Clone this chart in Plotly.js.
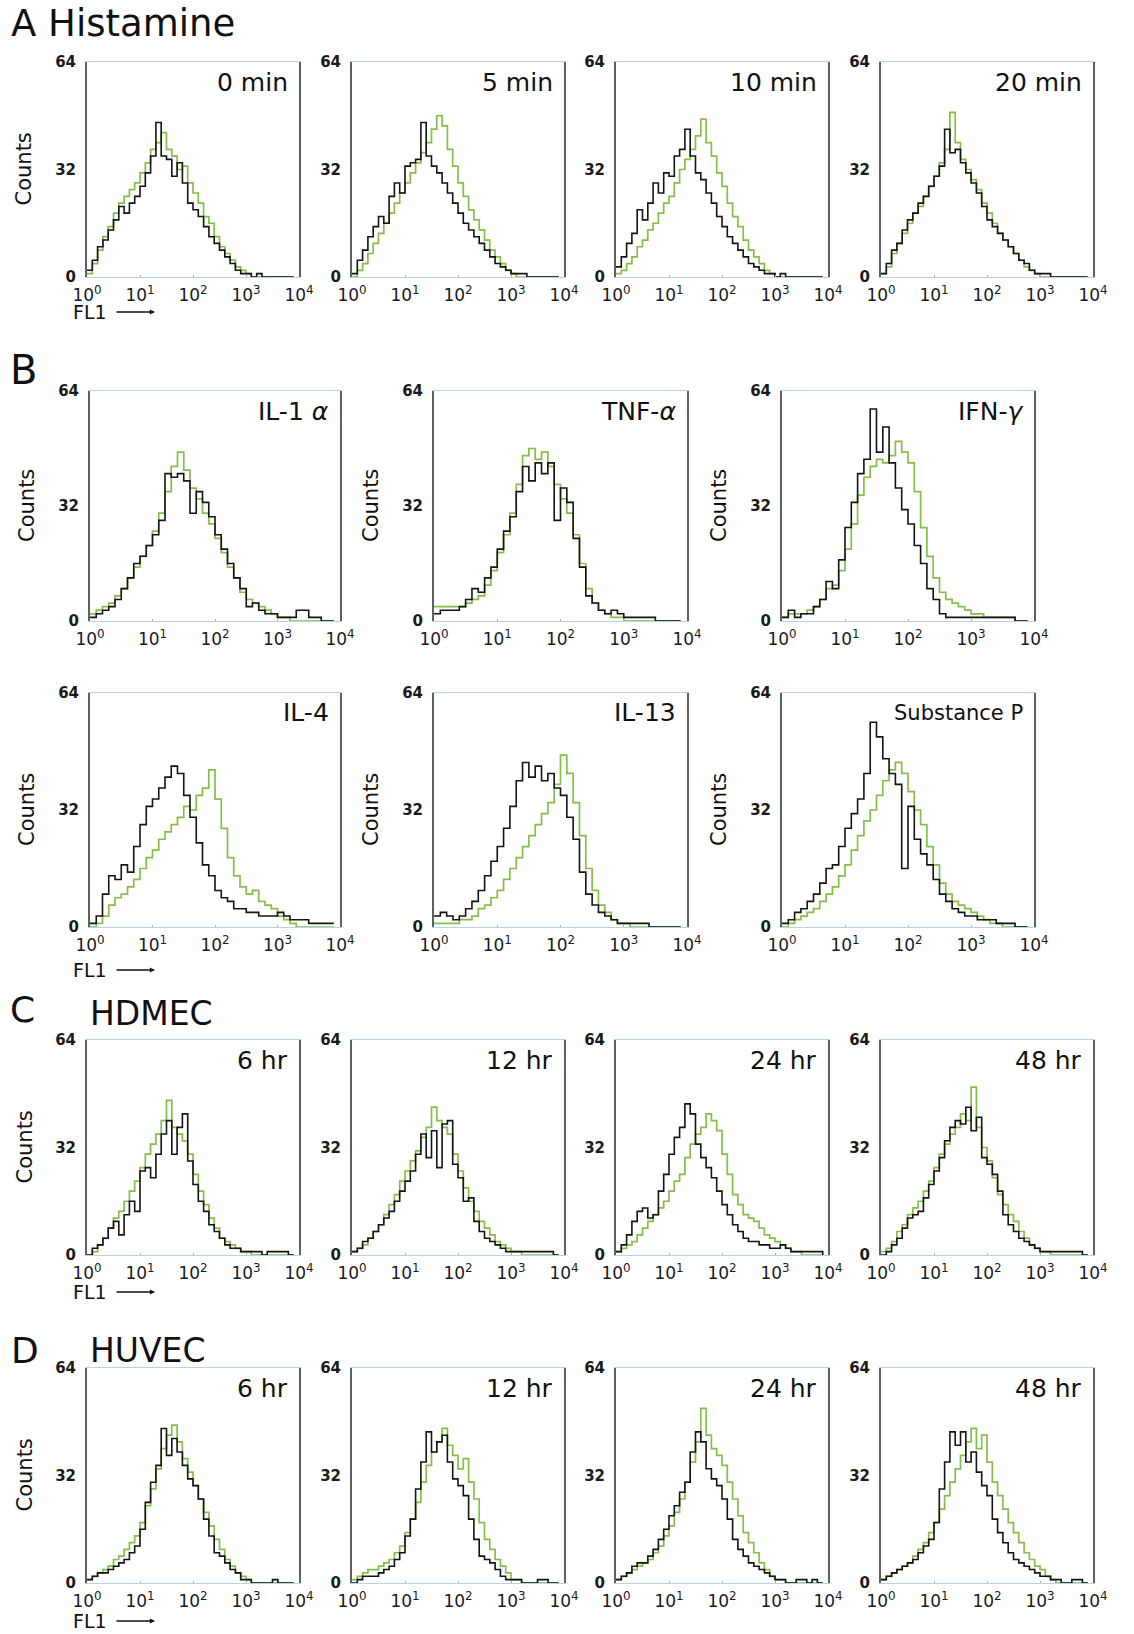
<!DOCTYPE html>
<html><head><meta charset="utf-8">
<script src="https://cdn.plot.ly/plotly-3.0.1.min.js"></script>
<style>html,body{margin:0;padding:0;background:#fff}#chart{width:1134px;height:1634px}</style>
</head><body><div id="chart"></div>
<script>
// FL1 bins (decades, log10 of fluorescence channel)
const BINS = [0,0.1,0.2,0.3,0.4,0.5,0.6,0.7,0.8,0.9,1.0,1.1,1.2,1.3,1.4,1.5,1.6,1.7,1.8,1.9,2.0,2.1,2.2,2.3,2.4,2.5,2.6,2.7,2.8,2.9,3.0,3.1,3.2,3.3,3.4,3.5,3.6,3.7,3.8,3.9];
const X_TICK_VALUES = [0,1,2,3,4];
const X_TICK_TEXT = ['10<sup>0</sup>','10<sup>1</sup>','10<sup>2</sup>','10<sup>3</sup>','10<sup>4</sup>'];
const Y_TICK_VALUES = [0,32,64];
const Y_TICK_TEXT = ['0','32','64'];
const PANEL_LABELS = ['0 min','5 min','10 min','20 min','IL-1 <i>α</i>','TNF-<i>α</i>','IFN-<i>γ</i>','IL-4','IL-13','Substance P','6 hr','12 hr','24 hr','48 hr','6 hr','12 hr','24 hr','48 hr'];
const SECTION_TITLES = ['A Histamine','B','C','HDMEC','D','HUVEC'];

// A: Histamine
const histamine0Black = [2,5,9,11,14,17,21,19,22,24, 27,31,36,46,36,35,30,34,28,22, 20,18,15,12,10,8,6,4,2,1, 1,0,1,0,0,0,0,0,0,0];
const histamine0Green = [1,4,8,12,15,19,22,24,26,28, 31,34,38,40,43,38,36,32,33,28, 25,22,18,16,12,9,7,5,3,2, 1,0,0,0,0,0,0,0,0,0];
const histamine5Black = [1,5,8,12,15,18,16,24,28,25, 33,34,35,46,36,33,31,28,25,22, 19,16,14,12,10,8,6,4,3,2, 1,1,1,0,0,0,0,0,0,0];
const histamine5Green = [0,2,4,7,10,13,16,19,22,25, 28,31,34,37,40,44,48,45,38,33, 28,24,20,17,14,11,8,6,4,2, 1,0,0,0,0,0,0,0,0,0];
const histamine10Black = [3,6,10,13,20,17,22,28,25,31, 30,36,38,44,36,31,29,25,22,18, 15,12,10,8,6,4,3,2,1,1, 0,1,0,0,0,0,0,0,0,0];
const histamine10Green = [1,2,4,6,9,11,14,16,19,22, 24,28,32,35,38,42,47,40,36,31, 27,22,18,15,11,8,6,4,2,1, 0,0,0,0,0,0,0,0,0,0];
const histamine20Black = [1,4,8,10,14,17,19,22,24,27, 30,33,44,37,38,34,31,28,25,21, 17,15,13,11,9,7,5,4,2,1, 1,1,0,0,0,0,0,0,0,0];
const histamine20Green = [1,3,7,10,13,16,19,21,24,27, 30,34,38,49,40,35,32,29,26,22, 19,16,13,11,9,7,5,3,2,1, 0,0,0,0,0,0,0,0,0,0];
// B: cytokines
const il1aBlack = [1,2,3,4,6,9,12,16,18,21, 24,28,41,40,41,39,30,36,33,29, 24,20,16,12,9,4,5,3,2,2, 1,1,1,3,3,1,1,0,0,0];
const il1aGreen = [2,3,4,5,7,9,12,15,18,21, 25,30,36,43,47,42,37,34,30,27, 23,19,15,12,8,6,5,4,3,2, 1,1,0,0,0,0,0,0,0,0];
const tnfaBlack = [2,3,3,3,4,6,9,8,12,15, 20,25,29,36,43,39,44,41,44,28, 37,33,23,15,7,5,3,2,3,2, 1,1,1,1,1,0,0,0,0,0];
const tnfaGreen = [4,4,4,4,4,5,6,7,10,14, 19,24,30,38,46,48,45,47,43,38, 34,30,24,16,9,5,3,2,1,1, 0,0,0,0,0,0,0,0,0,0];
const ifngBlack = [1,3,1,2,2,4,6,11,9,17, 26,33,41,45,59,47,54,44,37,31, 27,21,16,9,6,2,1,1,1,1, 1,1,1,1,1,1,1,0,0,0];
const ifngGreen = [1,2,2,2,3,4,6,9,10,14, 20,27,35,40,43,45,44,46,50,47, 44,36,26,18,12,8,6,5,4,3, 2,2,1,1,1,1,1,0,0,0];
const il4Black = [1,3,9,14,13,17,15,22,28,33, 35,38,41,44,42,36,30,23,17,14, 10,8,7,5,5,4,4,3,3,3, 4,3,2,2,2,1,1,1,1,1];
const il4Green = [0,1,3,6,8,9,11,13,16,19, 21,24,26,28,30,33,32,36,38,43, 35,27,19,14,11,9,10,7,6,5, 3,2,1,0,0,0,0,0,0,0];
const il13Black = [3,4,3,2,3,5,7,10,14,18, 22,27,33,40,45,41,44,40,42,38, 36,30,24,15,9,6,4,3,2,1, 1,1,1,1,0,0,0,0,0,0];
const il13Green = [1,1,1,1,2,2,3,5,6,8, 10,13,16,19,22,25,28,31,34,39, 47,42,34,25,16,10,6,4,2,1, 1,0,0,0,0,0,0,0,0,0];
const substancePBlack = [1,2,4,5,7,9,12,16,17,22, 27,31,35,42,56,52,46,42,39,16, 33,24,20,17,13,9,7,5,4,3, 3,2,2,2,1,1,1,0,0,0];
const substancePGreen = [0,1,2,3,4,5,7,9,11,14, 17,21,25,29,32,36,40,43,45,42, 37,32,28,22,17,12,9,7,6,5, 4,3,2,1,1,0,0,0,0,0];
// C: HDMEC
const hdmec6Black = [0,2,3,5,8,10,6,12,16,13, 25,26,23,30,36,40,30,38,42,28, 21,16,13,9,7,5,3,2,2,1, 1,1,1,0,1,1,1,1,0,0];
const hdmec6Green = [0,1,3,5,8,11,13,16,19,22, 26,30,33,36,40,46,38,36,34,30, 24,19,15,11,8,5,4,3,2,1, 1,0,0,0,0,0,0,0,0,0];
const hdmec12Black = [1,2,4,5,7,9,11,13,16,19, 22,25,30,36,29,37,26,39,40,27, 23,16,17,10,7,5,4,3,2,1, 1,1,1,1,1,1,1,1,0,0];
const hdmec12Green = [1,2,3,5,7,9,12,15,18,22, 25,28,31,35,38,44,40,38,36,30, 25,20,16,13,10,8,6,4,3,2, 1,1,0,0,0,0,0,0,0,0];
const hdmec24Black = [1,3,6,10,13,14,11,12,19,24, 30,35,38,45,42,33,29,26,23,19, 15,12,9,7,5,4,4,3,3,2, 2,3,2,1,1,1,1,1,1,0];
const hdmec24Green = [1,2,3,4,6,8,10,12,14,16, 19,22,24,29,33,36,38,42,40,37, 30,24,18,15,12,11,10,8,6,5, 4,3,2,1,1,0,0,0,0,0];
const hdmec48Black = [0,1,3,5,8,11,12,13,17,21, 25,29,34,38,40,39,44,37,41,29, 27,24,19,12,9,7,5,4,3,2, 1,1,1,1,1,1,1,1,0,0];
const hdmec48Green = [1,2,4,7,9,12,14,16,19,22, 26,30,33,36,38,42,40,50,38,32, 28,23,18,15,12,10,7,5,3,2, 1,1,0,0,0,0,0,0,0,0];
// D: HUVEC
const huvec6Black = [1,2,3,3,4,5,6,7,9,11, 16,24,30,35,46,38,43,39,35,31, 29,25,19,14,9,8,6,4,3,1, 1,0,0,0,0,1,0,0,0,0];
const huvec6Green = [1,2,3,4,5,7,8,10,12,14, 18,23,28,34,40,44,47,42,37,33, 29,25,21,17,13,10,7,5,3,2, 1,0,0,0,0,0,0,0,0,0];
const huvec12Black = [0,1,2,2,2,3,4,5,7,9, 14,19,28,36,45,39,42,44,36,31, 29,26,19,13,8,7,6,4,2,1, 1,1,0,0,0,1,1,0,0,0];
const huvec12Green = [1,2,3,4,4,5,6,7,9,11, 15,19,24,30,35,39,42,46,41,38, 34,37,30,25,18,13,10,7,5,3, 1,1,0,0,0,0,0,0,0,0];
const huvec24Black = [1,2,3,5,6,6,8,10,13,16, 20,23,27,30,39,45,42,34,31,29, 25,19,13,10,8,6,5,4,3,2, 1,1,0,0,1,1,0,1,0,0];
const huvec24Green = [1,2,3,4,5,6,7,9,11,14, 17,21,25,30,36,42,52,44,40,38, 35,30,25,20,15,12,9,6,4,2, 1,1,0,0,0,0,0,0,0,0];
const huvec48Black = [1,2,3,4,5,6,7,9,11,13, 18,28,36,45,41,45,36,39,33,29, 26,19,15,12,9,7,6,5,4,3, 2,2,1,1,0,0,1,1,0,0];
const huvec48Green = [1,2,3,4,5,6,8,10,12,15, 18,22,26,30,34,38,42,46,40,44, 36,30,26,22,18,15,12,9,7,5, 4,2,1,0,0,0,0,0,0,0];

const W = 1134, H = 1634;
const FONT = 'DejaVu Sans';
const px = v => v / W;
const py = v => 1 - v / H;

const colsA = [[87,299],[352,564],[616,828],[881,1093]];
const colsB = [[90,340],[434,687],[782,1034]];
const rowA = [62,277], rowB1 = [391,621], rowB2 = [693,927], rowC = [1040,1255], rowD = [1368,1583];

const PANELS = [
  {black: histamine0Black, green: histamine0Green, col: colsA[0], row: rowA, counts: true},
  {black: histamine5Black, green: histamine5Green, col: colsA[1], row: rowA},
  {black: histamine10Black, green: histamine10Green, col: colsA[2], row: rowA},
  {black: histamine20Black, green: histamine20Green, col: colsA[3], row: rowA},
  {black: il1aBlack, green: il1aGreen, col: colsB[0], row: rowB1, counts: true},
  {black: tnfaBlack, green: tnfaGreen, col: colsB[1], row: rowB1, counts: true},
  {black: ifngBlack, green: ifngGreen, col: colsB[2], row: rowB1, counts: true},
  {black: il4Black, green: il4Green, col: colsB[0], row: rowB2, counts: true},
  {black: il13Black, green: il13Green, col: colsB[1], row: rowB2, counts: true},
  {black: substancePBlack, green: substancePGreen, col: colsB[2], row: rowB2, counts: true, small: true},
  {black: hdmec6Black, green: hdmec6Green, col: colsA[0], row: rowC, counts: true},
  {black: hdmec12Black, green: hdmec12Green, col: colsA[1], row: rowC},
  {black: hdmec24Black, green: hdmec24Green, col: colsA[2], row: rowC},
  {black: hdmec48Black, green: hdmec48Green, col: colsA[3], row: rowC},
  {black: huvec6Black, green: huvec6Green, col: colsA[0], row: rowD, counts: true},
  {black: huvec12Black, green: huvec12Green, col: colsA[1], row: rowD},
  {black: huvec24Black, green: huvec24Green, col: colsA[2], row: rowD},
  {black: huvec48Black, green: huvec48Green, col: colsA[3], row: rowD}
];

const traces = [];
const layout = {
  width: W, height: H,
  margin: {l: 0, r: 0, t: 0, b: 0},
  paper_bgcolor: '#ffffff', plot_bgcolor: '#ffffff',
  showlegend: false,
  font: {family: FONT, color: '#111'},
  annotations: []
};

PANELS.forEach((p, i) => {
  const n = i === 0 ? '' : String(i + 1);
  const xa = 'x' + n, ya = 'y' + n;
  traces.push({x: BINS, y: p.green, xaxis: xa, yaxis: ya, type: 'scatter', mode: 'lines',
    line: {shape: 'hv', color: '#7dbd3f', width: 1.7}, opacity: 0.95, hoverinfo: 'skip'});
  traces.push({x: BINS, y: p.black, xaxis: xa, yaxis: ya, type: 'scatter', mode: 'lines',
    line: {shape: 'hv', color: '#141414', width: 1.6}, hoverinfo: 'skip'});
  layout['xaxis' + n] = {
    domain: [px(p.col[0]), px(p.col[1])], anchor: ya, range: [0, 4],
    tickvals: X_TICK_VALUES, ticktext: X_TICK_TEXT,
    tickfont: {family: FONT, size: 17, color: '#1a1a1a'},
    showgrid: false, zeroline: false, showline: true, mirror: true,
    linecolor: '#b9d3e3', linewidth: 1,
    ticks: 'inside', ticklen: 2, tickcolor: '#9fb5c5', ticklabelstandoff: 3, fixedrange: true
  };
  layout['yaxis' + n] = {
    domain: [py(p.row[1]), py(p.row[0])], anchor: xa, range: [0, 64],
    tickvals: Y_TICK_VALUES, ticktext: Y_TICK_TEXT,
    tickfont: {family: FONT, size: 15, color: '#1a1a1a', weight: 700},
    showgrid: false, zeroline: false, showline: true, mirror: true,
    linecolor: '#5b6168', linewidth: 2, ticks: '', ticklabelstandoff: 6, fixedrange: true
  };
  layout.annotations.push({
    xref: 'paper', yref: 'paper', x: px(p.col[1] - 9), y: py(p.row[0] + 20),
    xanchor: 'right', yanchor: 'middle', showarrow: false,
    text: PANEL_LABELS[i], font: {family: FONT, size: p.small ? 21 : 25, color: '#111'}
  });
  if (p.counts) {
    layout.annotations.push({
      xref: 'paper', yref: 'paper', x: px(p.col[0] - 63), y: py((p.row[0] + p.row[1]) / 2),
      xanchor: 'center', yanchor: 'middle', textangle: -90, showarrow: false,
      text: 'Counts', font: {family: FONT, size: 21, color: '#111'}
    });
  }
});

// Section titles
const titleAnn = (txt, x, y, size) => ({xref: 'paper', yref: 'paper', x: px(x), y: py(y),
  xanchor: 'left', yanchor: 'middle', showarrow: false, text: txt,
  font: {family: FONT, size: size, color: '#111'}});
layout.annotations.push(titleAnn(SECTION_TITLES[0], 9, 24, 37));
layout.annotations.push(titleAnn(SECTION_TITLES[1], 8, 370, 40));
layout.annotations.push(titleAnn(SECTION_TITLES[2], 8, 1010, 36));
layout.annotations.push(titleAnn(SECTION_TITLES[3], 88, 1013, 33));
layout.annotations.push(titleAnn(SECTION_TITLES[4], 9, 1350, 36));
layout.annotations.push(titleAnn(SECTION_TITLES[5], 88, 1350, 33));

// FL1 axis labels with arrows
[312, 970, 1292, 1621].forEach(yc => {
  layout.annotations.push({xref: 'paper', yref: 'paper', x: px(71), y: py(yc),
    xanchor: 'left', yanchor: 'middle', showarrow: false, text: 'FL1',
    font: {family: FONT, size: 19, color: '#111'}});
  layout.annotations.push({xref: 'paper', yref: 'paper', x: px(155), y: py(yc),
    showarrow: true, ax: -40, ay: 0, text: '', arrowhead: 2, arrowsize: 0.8,
    arrowwidth: 1.3, arrowcolor: '#111', standoff: 0, startstandoff: 0});
});

Plotly.newPlot('chart', traces, layout, {staticPlot: true, displayModeBar: false});
</script>
</body></html>
